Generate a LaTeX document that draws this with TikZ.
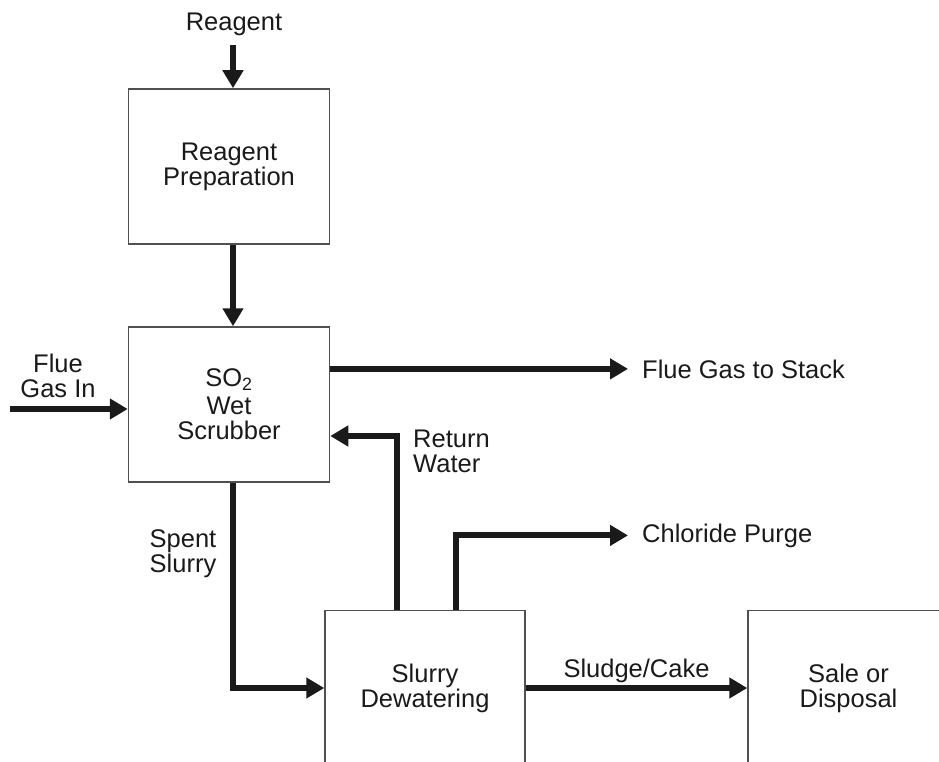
\documentclass[tikz,border=0pt]{standalone}
\usepackage{fontspec}
\setmainfont{Liberation Sans}
\usetikzlibrary{arrows.meta}
\definecolor{ink}{HTML}{1A1A1A}
\definecolor{edge}{HTML}{505050}
\begin{document}
\begin{tikzpicture}[x=1pt,y=-1pt,
  txt/.style={text=ink, font=\fontsize{25.5}{25}\selectfont},
  box/.style={txt, draw=edge, line width=1.5pt, minimum width=201pt, minimum height=155pt, inner sep=0pt, align=center},
  lbl/.style={txt, inner sep=0pt, align=center},
  flow/.style={line width=6pt, draw=ink, -{Triangle[length=18pt,width=20pt]}}]
\useasboundingbox (0,0) rectangle (939,762);
\clip (0,0) rectangle (939,762);
\fill[white] (0,0) rectangle (939,762);
% boxes
\node[box] (prep) at (229,166.5) {Reagent\\Preparation};
\node[box] (scrub) at (229,404.5) {SO\textsubscript{2}\\[3pt]Wet\\Scrubber};
\node[box, minimum width=200pt] (dew) at (425,688) {Slurry\\Dewatering};
\node[box] (sale) at (848.5,688) {Sale or\\Disposal};
% labels
\node[lbl, anchor=base] (reag) at (234,31) {Reagent};
\node[lbl] (flin) at (58,375.4) {Flue\\Gas In};
\node[lbl, anchor=base west] (stack) at (642,378) {Flue Gas to Stack};
\node[lbl, align=left, anchor=west] (ret) at (413,451.4) {Return\\Water};
\node[lbl, anchor=base west] (cl) at (642,542) {Chloride Purge};
\node[lbl] (spent) at (183,554) {Spent\\Slurry};
\node[lbl, anchor=base] (sl) at (636.5,677) {Sludge/Cake};
% connectors
\coordinate (rs) at (233,45);
\coordinate (fin) at (10,409);
\draw[flow] (rs) -- (rs |- prep.north);
\draw[flow] ([xshift=4pt]prep.south) -- ([xshift=4pt]scrub.north);
\draw[flow] (fin) -- (fin -| scrub.west);
\draw[flow, shorten >=14pt] (scrub.east |- stack.west) -- (stack.west);
\draw[flow] ([xshift=-28pt]dew.north) |- ([yshift=-31.5pt]scrub.east);
\draw[flow, shorten >=14pt] ([xshift=31pt]dew.north) |- (cl.west);
\draw[flow] ([xshift=4pt]scrub.south) |- (dew.west);
\draw[flow] (dew.east) -- (sale.west);
\end{tikzpicture}
\end{document}
